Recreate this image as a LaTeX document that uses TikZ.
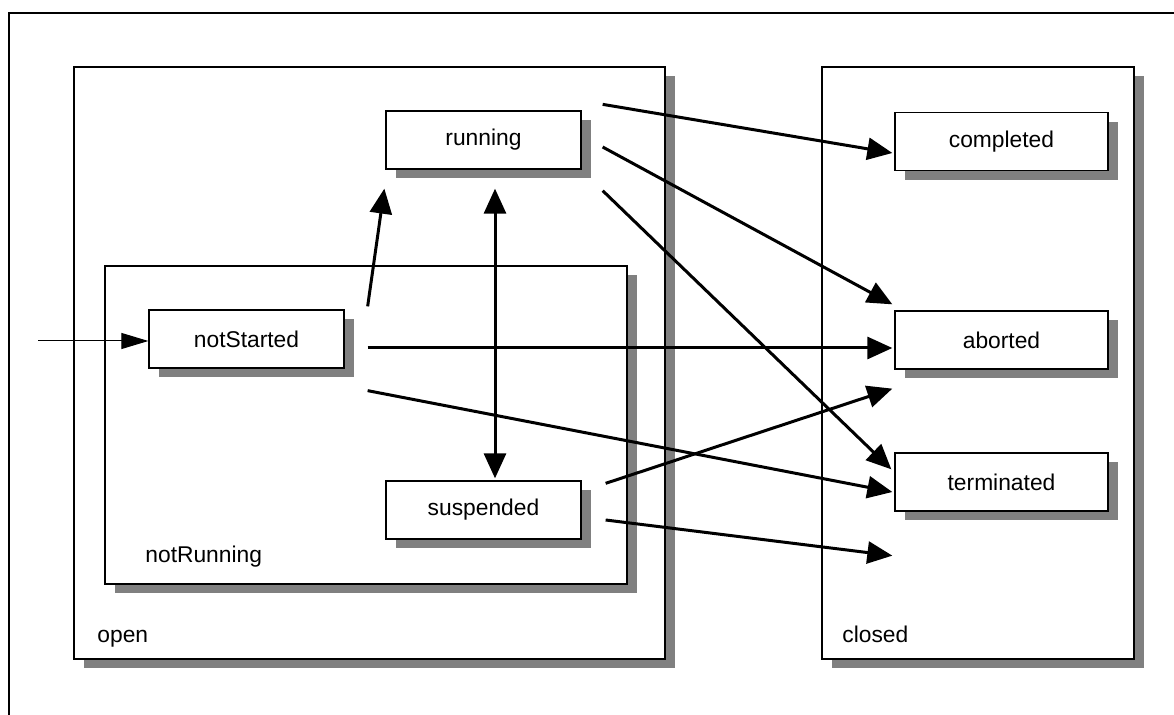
\documentclass[tikz,border=0pt]{standalone}
\usepackage{fontspec}
\setmainfont{Liberation Sans}
\usetikzlibrary{arrows.meta,shadows,calc}
\tikzset{
  box/.style={draw, fill=white, line width=0.65pt,
    drop shadow={shadow xshift=4.75pt, shadow yshift=-4.75pt, fill=black!50, opacity=1}},
  state/.style={box, minimum width=97.5pt, minimum height=29pt, inner sep=0pt},
  final/.style={state, minimum width=106.5pt},
  lbl/.style={anchor=base west, inner sep=0pt},
  bigtip/.tip={Triangle[length=12.5pt,width=11pt]},
  trans/.style={line width=1.5pt, -bigtip},
}

\begin{document}
\begin{tikzpicture}[x=0.5pt, y=-0.5pt, font=\fontsize{11.4}{13}\selectfont]
    \useasboundingbox (0,0) rectangle (1174,715);
    \draw[line width=0.6pt] (9,715) -- (9,13) -- (1174,13);
    \draw[box] (74,67) rectangle (665,659);
    \draw[box] (822,67) rectangle (1134,659);
    \draw[box] (105,266) rectangle (627,584);
    \node[lbl] (openlbl) at (97,643) {open};
    \node[lbl] (closedlbl) at (842,643) {closed};
    \node[lbl] (notrunlbl) at (145,563) {notRunning};

    \node[state] (running) at (483.5,140) {running};
    \node[state] (notStarted) at (246.5,339) {notStarted};
    \node[state] (suspended) at (483.5,510) {suspended};
    \node[final] (completed) at (1001.5,141.5) {completed};
    \node[final] (aborted) at (1001.5,340) {aborted};
    \node[final] (terminated) at (1001.5,482) {terminated};

    \coordinate (init) at (38,341);
    \draw[line width=0.5pt, -{Triangle[length=13.5pt,width=8pt]}] (init) -- (notStarted.west |- init);

    \draw[trans] ($(running.north east)+(21,-6)$) -- ($(completed.west)+(-2,11.5)$);
    \draw[trans] ($(running.east)+(21,7)$) -- ($(aborted.north west)+(-2,-6)$);
    \draw[trans] ($(running.south east)+(21,21)$) -- ($(terminated.north west)+(-3,17)$);
    \draw[trans] ($(notStarted.north east)+(23,-3)$) -- ($(running.south west)+(-1,19)$);
    \draw[trans, bigtip-bigtip] ($(running.south)+(11.5,19)$) -- ($(suspended.north)+(11.5,-2)$);
    \draw[trans] ($(notStarted.east)+(23,9)$) -- ($(aborted.west)+(-2,8)$);
    \draw[trans] ($(notStarted.south east)+(23,22)$) -- ($(terminated.west)+(-2,10)$);
    \draw[trans] ($(suspended.north east)+(24,3)$) -- ($(aborted.south west)+(-2,19)$);
    \draw[trans] ($(suspended.east)+(24,10)$) -- ($(terminated.south west)+(-2,44)$);
\end{tikzpicture}
\end{document}
